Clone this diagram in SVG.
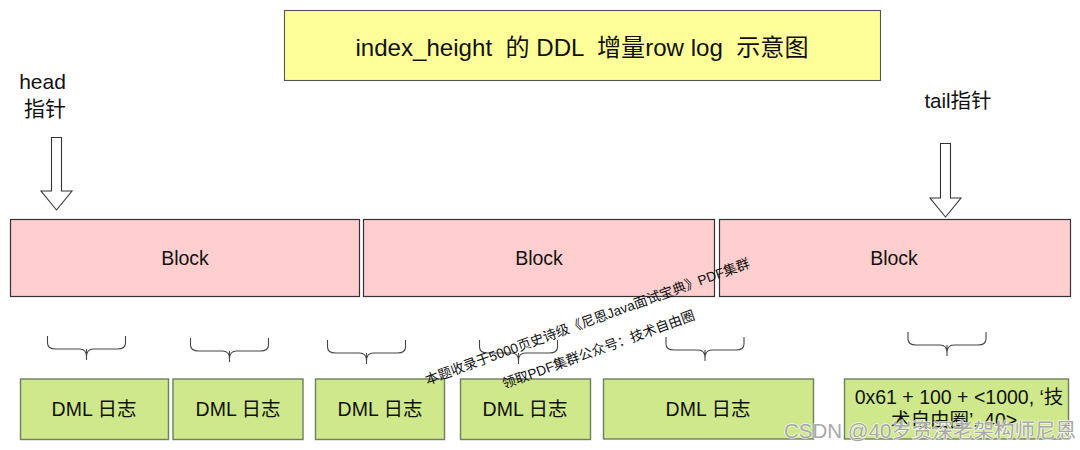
<svg xmlns="http://www.w3.org/2000/svg" width="1080" height="450" viewBox="0 0 1080 450">
<style>
text{font-family:"Liberation Sans","Noto Sans CJK SC",sans-serif;fill:#111;text-anchor:middle}
.b{fill:#ffcfcf;stroke:#333;stroke-width:1.2}
.d{fill:#cfe88c;stroke:#6f7f60;stroke-width:1.4}
.t{font-size:19.500px}
.br{fill:none;stroke:#444;stroke-width:1.1}
.ar{fill:#fff;stroke:#333;stroke-width:1.1}
.w{font-size:13.600px}
</style>
<defs>
<path id="brace" class="br" d="M-39 -13V-6Q-39 0 -31 0H-7Q0 0 0 8Q0 0 7 0H31Q39 0 39 -6V-13M0 0V11"/>
</defs>
<rect width="1080" height="450" fill="#fff"/>
<g id="title"><rect x="284.500" y="10.500" width="596" height="70" fill="#ffff99" stroke="#555" stroke-width="1.100"/><text x="582" y="56" font-size="24.100px" style="white-space:pre">index_height  的 DDL  增量row log  示意图</text></g>
<g id="head"><text x="42.500" y="89" font-size="21px">head</text><text x="45" y="116" font-size="21px">指针</text></g>
<g id="tail"><text x="958" y="108" font-size="20.500px">tail指针</text></g>
<g id="connectors">
<path class="ar" d="M51.500 137.500H61.500V191H72L56.500 210L41 191H51.500Z"/>
<path class="ar" d="M940.500 143.500H950.500V198H961L945.500 217L930 198H940.500Z"/>
<use href="#brace" x="86.500" y="349"/>
<use href="#brace" x="229.500" y="351"/>
<use href="#brace" x="366.500" y="353"/>
<use href="#brace" x="518.500" y="353"/>
<use href="#brace" x="705" y="350"/>
<use href="#brace" x="947" y="345"/>
</g>
<g id="block1"><rect class="b" x="10.500" y="219.500" width="349" height="77"/><text class="t" x="185" y="265">Block</text></g>
<g id="block2"><rect class="b" x="363.500" y="219.500" width="351" height="77"/><text class="t" x="539" y="265">Block</text></g>
<g id="block3"><rect class="b" x="719.500" y="219.500" width="351" height="77"/><text class="t" x="894" y="265">Block</text></g>
<g id="dml1"><rect class="d" x="20.500" y="379" width="148" height="60.500"/><text class="t" x="94" y="416">DML 日志</text></g>
<g id="dml2"><rect class="d" x="173" y="379" width="130" height="60.500"/><text class="t" x="238" y="416">DML 日志</text></g>
<g id="dml3"><rect class="d" x="315.500" y="379" width="129" height="60.500"/><text class="t" x="380" y="416">DML 日志</text></g>
<g id="dml4"><rect class="d" x="460.500" y="379" width="130" height="60.500"/><text class="t" x="525" y="416">DML 日志</text></g>
<g id="dml5"><rect class="d" x="603.500" y="379" width="210" height="60"/><text class="t" x="708" y="416">DML 日志</text></g>
<g id="dml6"><rect class="d" x="844.500" y="379" width="224" height="60"/><text class="t" x="959" y="404">0x61 + 100 + &lt;1000, ‘技</text><text class="t" x="954" y="427">术自由圈’, 40&gt;</text></g>
<g id="watermark">
<text class="w" transform="translate(589 326) rotate(-20)">本题收录于5000页史诗级《尼恩Java面试宝典》PDF集群</text>
<text class="w" transform="translate(600 354) rotate(-20)">领取PDF集群公众号：技术自由圈</text>
<text x="930" y="438" font-size="20.500px" style="fill:#a8a8a8;stroke:#fff;stroke-opacity:.75;stroke-width:1.5;paint-order:stroke">CSDN @40岁资深老架构师尼恩</text>
</g>
</svg>
